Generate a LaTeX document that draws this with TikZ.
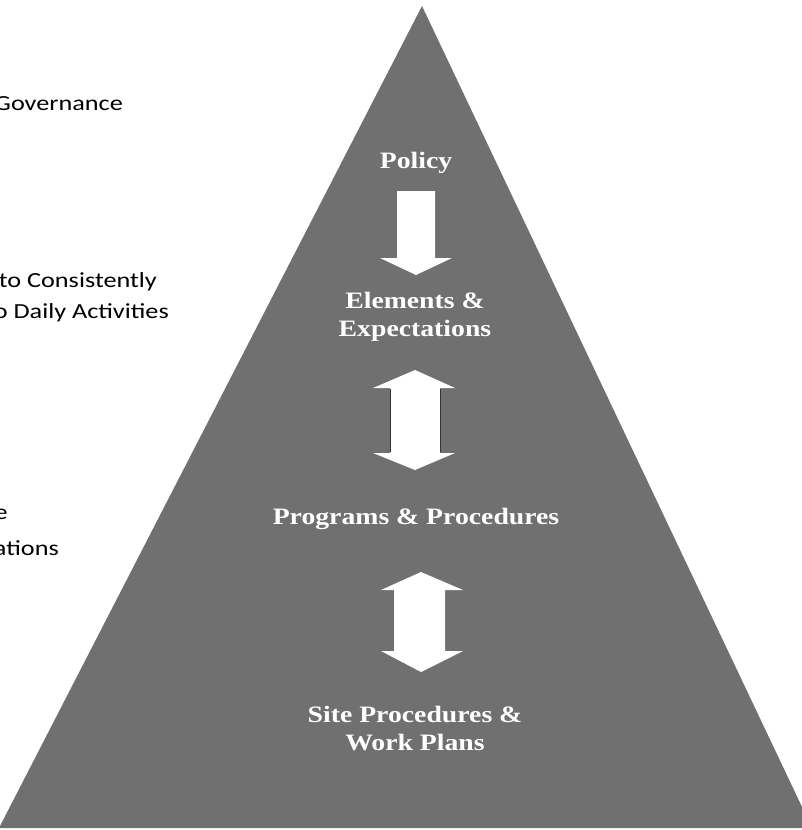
\documentclass[tikz,border=0pt]{standalone}
\usepackage{fontspec}
\setmainfont{Carlito}
\newfontfamily\sidefont[FakeStretch=1.22]{Carlito}
\newfontfamily\tierfont[FakeStretch=1.18]{Liberation Serif}
\definecolor{pyrgray}{RGB}{112,112,112}
\begin{document}
\begin{tikzpicture}[x=1pt,y=-1pt,
  sidetext/.style={anchor=base east, inner sep=0pt, text=black,
    font=\sidefont\fontsize{21.5}{26}\selectfont},
  tiertext/.style={anchor=base, inner sep=0pt, text=white, align=center,
    font=\tierfont\bfseries\fontsize{23.5}{28}\selectfont}]
\useasboundingbox (0,0) rectangle (802,830);
\clip (0,0) rectangle (802,830);

% pyramid body
\fill[pyrgray] (422,6) -- (812,828) -- (-1,828) -- cycle;

% side captions (running off the left edge)
\node[sidetext] (gov)  at (123,110) {Governance};
\node[sidetext] (cons) at (157,287) {to Consistently};
\node[sidetext] (daily) at (169,318) {o Daily Activities};
\node[sidetext] (e)    at (8,519) {e};
\node[sidetext] (ations) at (59,555) {ations};

% tier labels (base anchor sits on the last line)
\node[tiertext] (policy) at (416,168) {Policy};
\node[tiertext] (elem) at (415,336) {Elements \&\\Expectations};
\node[tiertext] (prog) at (416,524) {Programs \& Procedures};
\node[tiertext] (site) at (415,750) {Site Procedures \&\\Work Plans};

% down arrow: policy -> elements
\fill[white] (397,191) -- (435,191) -- (435,258) -- (452,258) -- (416,275)
  -- (380,258) -- (397,258) -- cycle;

% double arrow: elements <-> programs
\fill[white] (415,370) -- (455,388) -- (440,388) -- (440,453) -- (455,453)
  -- (415,470) -- (373,453) -- (390,453) -- (390,388) -- (373,388) -- cycle;
\draw[black!80, line width=0.8pt] (390,389) -- (390,452) (440,389) -- (440,452);

% double arrow: programs <-> site procedures
\fill[white] (421,572) -- (463,590) -- (445,590) -- (445,651) -- (463,651)
  -- (421,672) -- (381,651) -- (394,651) -- (394,590) -- (381,590) -- cycle;
\end{tikzpicture}
\end{document}
